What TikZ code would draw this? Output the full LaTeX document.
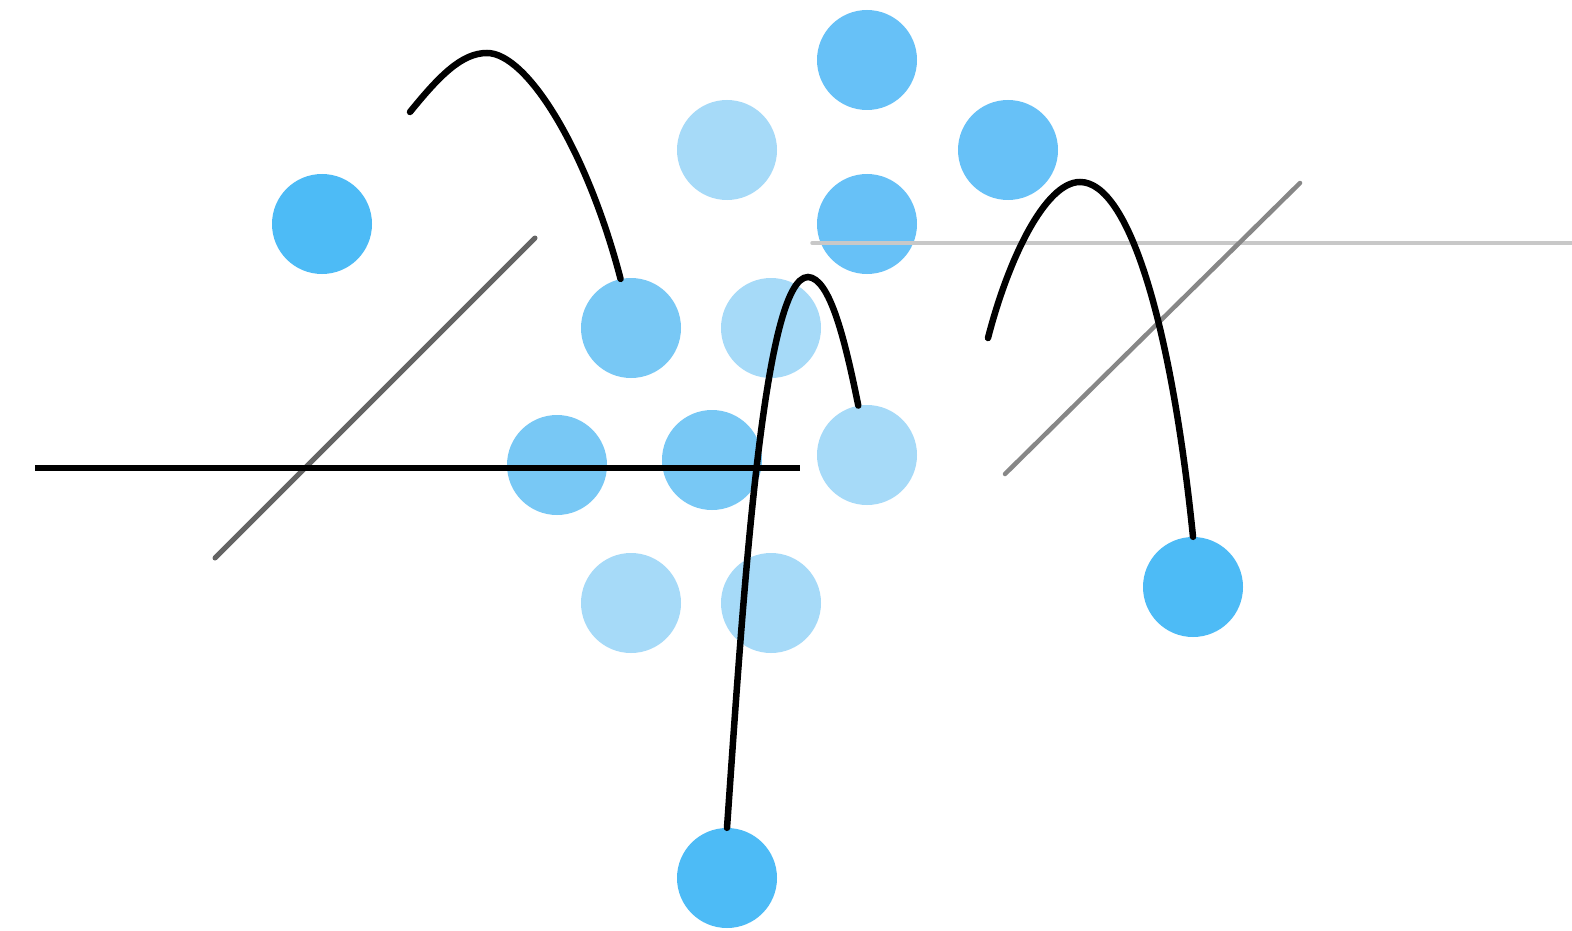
\documentclass[tikz,border=0pt]{standalone}
\begin{document}
\begin{tikzpicture}[x=1pt,y=-1pt,
  dot/.style={circle,minimum size=100pt,inner sep=0pt,draw=none},
  dark/.style={dot,fill={rgb,255:red,77;green,187;blue,246}},
  mid/.style={dot,fill={rgb,255:red,103;green,193;blue,247}},
  midl/.style={dot,fill={rgb,255:red,120;green,200;blue,245}},
  light/.style={dot,fill={rgb,255:red,166;green,218;blue,248}},
  wire/.style={line width=6.5pt,black,line cap=round},
  rule/.style={line width=5pt,line cap=round}]
\fill[white] (0,0) rectangle (1572,931);
\useasboundingbox (0,0) rectangle (1572,931);
% circles
\node[dark]  (c1)  at (322,224) {};
\node[mid]   (c2)  at (867,60)  {};
\node[light] (c3)  at (727,150) {};
\node[mid]   (c4)  at (1008,150) {};
\node[mid]   (c5)  at (867,224) {};
\node[midl]  (c6)  at (631,328) {};
\node[light] (c7)  at (771,328) {};
\node[midl]  (c8)  at (557,465) {};
\node[midl]  (c9)  at (712,460) {};
\node[light] (c10) at (867,455) {};
\node[light] (c11) at (631,603) {};
\node[light] (c12) at (771,603) {};
\node[dark]  (c13) at (1193,587) {};
\node[dark]  (c14) at (727,878) {};
% straight lines
\coordinate (l1a) at (35,468);  \coordinate (l1b) at (800,468);
\coordinate (l2a) at (215,558); \coordinate (l2b) at (535,238);
\coordinate (l3a) at (812,243); \coordinate (l3b) at (1572,243);
\coordinate (l4a) at (1005,474); \coordinate (l4b) at (1300,183);
\draw[rule,color={rgb,255:red,100;green,100;blue,100}] (l2a) -- (l2b);
\draw[rule,line width=3.5pt,color={rgb,255:red,200;green,200;blue,200}] (l3a) -- (l3b);
\draw[rule,line width=4.5pt,color={rgb,255:red,135;green,135;blue,135}] (l4a) -- (l4b);
\draw[wire,line cap=butt] (l1a) -- (l1b);
% curves
\coordinate (s1) at (410,112);
\coordinate (s3) at (988,338);
\draw[wire] (s1) .. controls (440,75) and (462,53) .. (487,53)
  .. controls (527,53) and (587,150) .. (c6.102);
\draw[wire] (c14.north) .. controls (743,600) and (763,277) .. (808,277)
  .. controls (830,278) and (845,340) .. (c10.100);
\draw[wire] (s3) .. controls (1008,260) and (1045,182) .. (1080,182)
  .. controls (1130,182) and (1172,330) .. (c13.north);
\end{tikzpicture}
\end{document}
